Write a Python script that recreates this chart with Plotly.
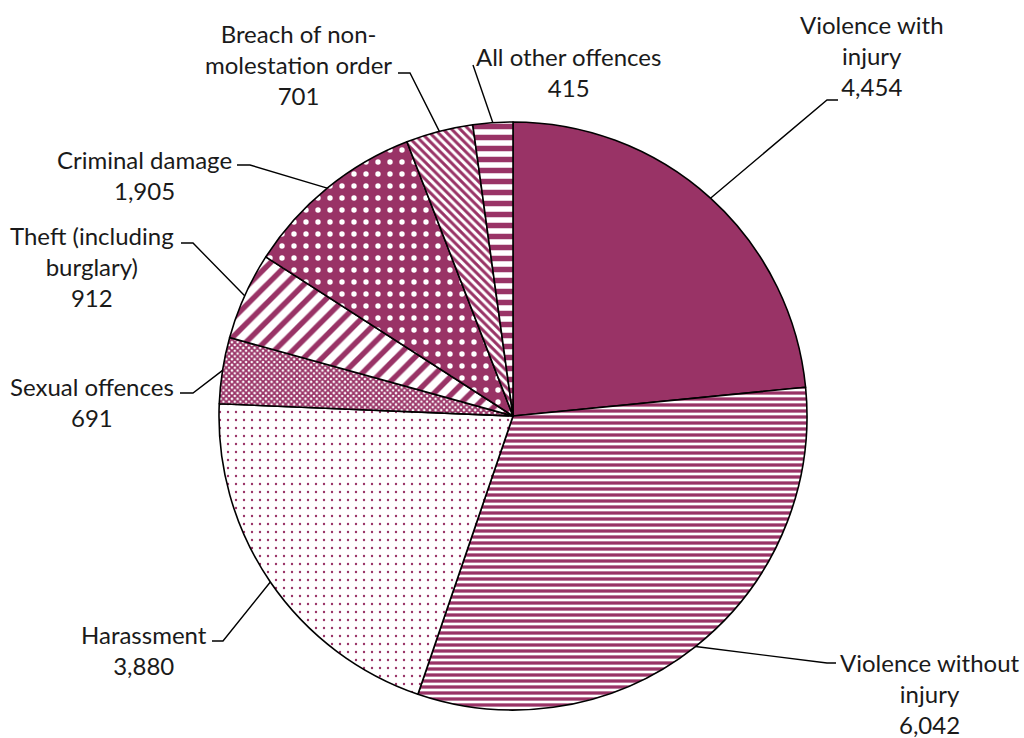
import math
import plotly.graph_objects as go

# ---- data ----
categories = [
    "Violence with injury",
    "Violence without injury",
    "Harassment",
    "Sexual offences",
    "Theft (including burglary)",
    "Criminal damage",
    "Breach of non-molestation order",
    "All other offences",
]
label_text = [
    "Violence with<br>injury",
    "Violence without<br>injury",
    "Harassment",
    "Sexual offences",
    "Theft (including<br>burglary)",
    "Criminal damage",
    "Breach of non-<br>molestation order",
    "All other offences",
]
values = [4454, 6042, 3880, 691, 912, 1905, 701, 415]

# ---- styling ----
W, H = 1024, 738
PLUM = "#993366"
CX, CY, R = 513, 416, 294  # pie centre / radius in pixels

patterns = [
    dict(shape=""),
    dict(shape="-", fgcolor=PLUM, bgcolor="white", size=6, solidity=0.55),
    dict(shape=".", fgcolor=PLUM, bgcolor="white", size=8, solidity=0.07),
    dict(shape="x", fgcolor=PLUM, bgcolor="white", size=4, solidity=0.7),
    dict(shape="/", fgcolor=PLUM, bgcolor="white", size=13, solidity=0.42),
    dict(shape=".", fgcolor="white", bgcolor=PLUM, size=12, solidity=0.16),
    dict(shape="\\", fgcolor=PLUM, bgcolor="white", size=6, solidity=0.5),
    dict(shape="-", fgcolor=PLUM, bgcolor="white", size=11, solidity=0.5),
]

# label block centres (pixels) and leader-line elbow / end points (pixels)
label_pos = [(872, 55), (930, 693), (144, 650), (92, 402),
             (92, 266), (144, 175), (298, 65), (568, 72)]
elbows = [
    [(827, 100), (838, 100)],
    [(827, 663), (836, 663)],
    [(223, 641), (212, 641)],
    [(193, 393), (180, 393)],
    [(193, 243), (181, 243)],
    [(250, 165), (237, 165)],
    [(410, 73), (398, 73)],
    [(473, 65)],
]


def px(x):
    return x / W


def py(y):
    return 1 - y / H


fig = go.Figure(
    go.Pie(
        labels=categories,
        values=values,
        sort=False,
        direction="clockwise",
        rotation=0,
        textinfo="none",
        hoverinfo="label+value",
        marker=dict(
            colors=[PLUM] * len(values),
            line=dict(color="black", width=1.6),
            pattern=dict(
                shape=[p["shape"] for p in patterns],
                fgcolor=[p.get("fgcolor", PLUM) for p in patterns],
                bgcolor=[p.get("bgcolor", PLUM) for p in patterns],
                size=[p.get("size", 8) for p in patterns],
                solidity=[p.get("solidity", 0.5) for p in patterns],
                fillmode="replace",
            ),
        ),
        domain=dict(x=[px(CX - R), px(CX + R)], y=[py(CY + R), py(CY - R)]),
        showlegend=False,
    )
)

total = sum(values)
cum = 0
shapes = []
annotations = []
for i, v in enumerate(values):
    theta = 2 * math.pi * (cum + v / 2) / total
    cum += v
    ex = CX + R * math.sin(theta)
    ey = CY - R * math.cos(theta)
    pts = [(ex, ey)] + elbows[i]
    path = "M " + " L ".join(f"{px(x):.5f},{py(y):.5f}" for x, y in pts)
    shapes.append(dict(type="path", xref="paper", yref="paper", path=path,
                       line=dict(color="black", width=1.4)))
    lx, ly = label_pos[i]
    annotations.append(dict(
        xref="paper", yref="paper", x=px(lx), y=py(ly),
        xanchor="center", yanchor="middle", showarrow=False, align="center",
        text=f"{label_text[i]}<br>{v:,}",
        font=dict(family="Lato", size=24, color="#1a1a1a"),
    ))

fig.update_layout(
    width=W, height=H,
    margin=dict(l=0, r=0, t=0, b=0),
    paper_bgcolor="white", plot_bgcolor="white",
    shapes=shapes, annotations=annotations,
)

fig.write_html(
    "out.html",
    config={"displayModeBar": False},
    post_script="document.body.style.margin='0';document.body.style.overflow='hidden';",
)
